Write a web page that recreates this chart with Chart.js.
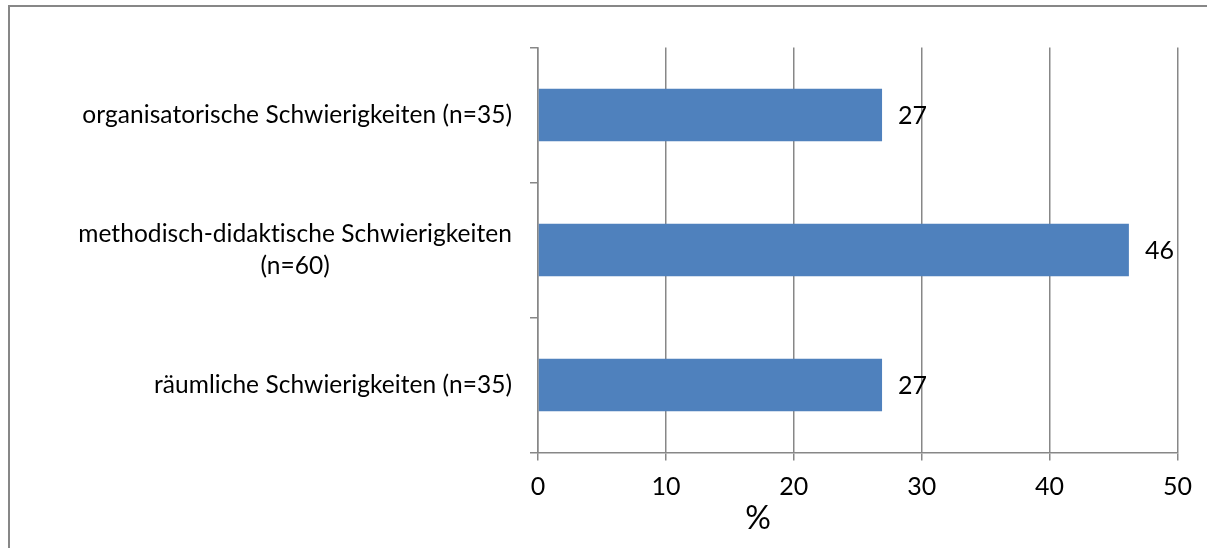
<!DOCTYPE html>
<html>
<head>
<meta charset="utf-8">
<script src="https://cdn.jsdelivr.net/npm/chart.js@4.4.1/dist/chart.umd.min.js"></script>
<style>
  html, body { margin: 0; padding: 0; background: #ffffff; overflow: hidden; }
  #wrap { position: relative; width: 1207px; height: 548px; }
  canvas { font-variant-ligatures: none; }
</style>
</head>
<body>
<div id="wrap"><canvas id="c" width="1207" height="548"></canvas></div>
<script>
// ---- data ----
const categories = [
  ['organisatorische Schwierigkeiten (n=35)'],
  ['methodisch-didaktische Schwierigkeiten', '(n=60)'],
  ['räumliche Schwierigkeiten (n=35)']
];
const values = [26.9, 46.2, 26.9];
const xMin = 0;
const xMax = 50;
const xStep = 10;
const axisTitle = '%';

const FONT = 'Lato, Carlito, Calibri, sans-serif';
const LABEL_SIZE = 25;
const CAT_SIZE = 24.5;
const GRID = '#878787';

const framePlugin = {
  id: 'frame',
  beforeDraw(chart) {
    const ctx = chart.ctx;
    ctx.save();
    ctx.fillStyle = '#ffffff';
    ctx.fillRect(0, 0, chart.width, chart.height);
    ctx.strokeStyle = GRID;
    ctx.lineWidth = 2;
    ctx.beginPath();
    ctx.moveTo(9, chart.height + 5);
    ctx.lineTo(9, 6);
    ctx.lineTo(chart.width + 5, 6);
    ctx.stroke();
    ctx.restore();
  }
};

const labelsPlugin = {
  id: 'customLabels',
  afterDraw(chart) {
    const ctx = chart.ctx;
    const y = chart.scales.y;
    ctx.save();
    ctx.fillStyle = '#000000';
    ctx.font = CAT_SIZE + 'px ' + FONT;
    if ('letterSpacing' in ctx) ctx.letterSpacing = '0.05px';
    ctx.textBaseline = 'middle';
    // category labels: block right-aligned, lines centred within block
    const right = chart.chartArea.left - 26;
    const lh = 32;
    categories.forEach((lines, i) => {
      const cy = y.getPixelForTick(i);
      const w = Math.max(...lines.map(l => ctx.measureText(l).width));
      const cx = right - w / 2;
      ctx.textAlign = 'center';
      lines.forEach((l, j) => {
        ctx.fillText(l, cx, cy + (j - (lines.length - 1) / 2) * lh);
      });
    });
    // value labels
    ctx.font = LABEL_SIZE + 'px ' + FONT;
    const meta = chart.getDatasetMeta(0);
    ctx.textAlign = 'left';
    meta.data.forEach((bar, i) => {
      ctx.fillText(String(Math.round(values[i])), bar.x + 16, bar.y + 1);
    });
    // axis title
    ctx.font = '32px ' + FONT;
    ctx.textAlign = 'center';
    ctx.fillText(axisTitle, chart.chartArea.left + 220, 519);
    ctx.restore();
  }
};

new Chart(document.getElementById('c'), {
  type: 'bar',
  data: {
    labels: categories,
    datasets: [{
      data: values,
      backgroundColor: '#4F81BD',
      borderWidth: 0,
      categoryPercentage: 1.0,
      barPercentage: 0.39
    }]
  },
  options: {
    indexAxis: 'y',
    responsive: false,
    animation: false,
    events: [],
    layout: { padding: { left: 0, top: 47.5, right: 29.5, bottom: 0 } },
    plugins: {
      legend: { display: false },
      tooltip: { enabled: false },
      title: { display: false }
    },
    scales: {
      x: {
        type: 'linear',
        min: xMin,
        max: xMax,
        ticks: {
          stepSize: xStep,
          color: '#000000',
          font: { family: FONT, size: LABEL_SIZE },
          padding: 11
        },
        grid: {
          color: GRID,
          lineWidth: 1.5,
          tickLength: 8,
          tickColor: GRID
        },
        border: { display: true, color: GRID, width: 1.5 },
        afterFit(scale) { scale.height = 95.5; }
      },
      y: {
        type: 'category',
        offset: true,
        ticks: { display: false },
        grid: {
          offset: true,
          drawOnChartArea: false,
          drawTicks: true,
          tickLength: 8,
          color: GRID,
          lineWidth: 1.5
        },
        border: { display: true, color: GRID, width: 1.5 },
        afterFit(scale) { scale.width = 538; }
      }
    }
  },
  plugins: [framePlugin, labelsPlugin]
});
</script>
</body>
</html>
